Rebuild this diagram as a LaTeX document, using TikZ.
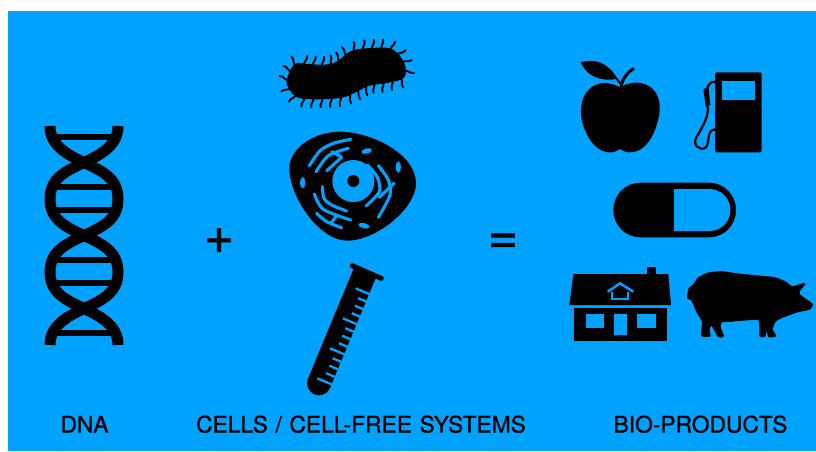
\documentclass[tikz,border=0pt]{standalone}
\usepackage{fontspec}
\setmainfont{TeX Gyre Heros}
\newfontfamily\heavy{TeX Gyre Heros}[FakeBold=1]
\usetikzlibrary{decorations.markings}
\definecolor{skyblue}{HTML}{00A2FF}

\begin{document}
\begin{tikzpicture}[
  x=1pt, y=-1pt,
  lbl/.style={anchor=base, inner sep=0pt, font=\heavy\fontsize{22.8}{24}\selectfont},
  sign/.style={inner sep=0pt, font=\heavy\fontsize{52}{52}\selectfont},
  strand/.style={line width=11pt},
  rung/.style={line width=6pt},
  hair/.style={line width=1.9pt, line cap=round},
  er/.style={draw=skyblue, line width=3.1pt, line cap=round},
  tick/.style={draw=skyblue, line width=2.3pt},
  bristles/.style={decoration={markings,
      mark=between positions 0 and 1 step 9.1pt with {
        \draw[hair] (0,1) .. controls (-1,-4) and (3,-4) .. (2,-9);}},
      postaction={decorate}}
]
  \useasboundingbox (0,0) rectangle (816,451);
  \fill[white] (0,0) rectangle (816,451);
  \fill[skyblue] (8,11) rectangle (816,451);

  % DNA
  \foreach \y/\w in {136.7/32, 187.3/30, 210/30, 260/30, 282.7/30, 332.7/32}
    \draw[rung] (84-\w,\y) -- (84+\w,\y);
  \draw[strand] (50,126) .. controls (50,145) and (66,154) .. (84,162.5)
      .. controls (102,171) and (118,178) .. (118,199)
      .. controls (118,220) and (102,227) .. (84,235.5)
      .. controls (66,244) and (50,251) .. (50,272)
      .. controls (50,293) and (66,300) .. (84,308.5)
      .. controls (102,317) and (118,326) .. (118,345);
  \draw[strand] (118,126) .. controls (118,145) and (102,154) .. (84,162.5)
      .. controls (66,171) and (50,178) .. (50,199)
      .. controls (50,220) and (66,227) .. (84,235.5)
      .. controls (102,244) and (118,251) .. (118,272)
      .. controls (118,293) and (102,300) .. (84,308.5)
      .. controls (66,317) and (50,326) .. (50,345);

  \node[sign] at (219,241) (plus) {+};
  \node[sign] at (503,243.5) (equals) {=};

  % Bacterium
  \filldraw[line width=2pt, line join=round, bristles] plot[smooth cycle, tension=0.6]
    coordinates {(287.7,80) (295,65) (308.3,65)
    (325,65.7) (338.3,61.7) (351.7,51.7) (371.7,49) (391.7,50) (403.3,63.3) (403.3,76.7)
    (388.3,81.7) (368.3,85) (355,91.7) (341.7,96.7) (318.3,98.3) (298.3,96.7) (290,88.3)};

  % Cell
  \begin{scope}[shift={(260,20)}, scale=1/3]
    \fill (88,440) .. controls (92,385) and (160,335) .. (240,335)
      .. controls (330,335) and (468,400) .. (468,490)
      .. controls (468,565) and (350,662) .. (260,662)
      .. controls (180,662) and (85,530) .. (88,440) -- cycle;
    \fill[skyblue] (280,483) circle[radius=63];
    \fill (280,483) circle[radius=18];
    \draw[er] plot[smooth] coordinates {(148,437) (180,392) (220,370) (272,358)};
    \draw[er] plot[smooth] coordinates {(168,455) (205,407) (265,385)};
    \draw[er] (200,452) -- (245,412);
    \draw[er] (215,395) -- (243,410);
    \draw[er] plot[smooth] coordinates {(322,435) (352,472) (358,515) (318,558)};
    \draw[er] plot[smooth] coordinates {(355,437) (385,480) (390,525) (355,592)};
    \draw[er] (358,532) -- (402,490);
    \draw[er] plot[smooth] coordinates {(187,500) (192,535) (215,555) (260,573)};
    \draw[er] plot[smooth] coordinates {(163,522) (190,568) (272,600)};
    \draw[er] plot[smooth] coordinates {(170,580) (200,605) (245,623)};
    \draw[er] (228,590) -- (212,610);
    \fill[skyblue, rotate around={15:(320,393)}] (320,393) ellipse[x radius=16, y radius=8];
    \fill[skyblue] (415,441) ellipse[x radius=8, y radius=17];
    \fill[skyblue] (128,488) ellipse[x radius=8, y radius=17];
    \fill[skyblue, rotate around={-15:(312,617)}] (312,617) ellipse[x radius=17, y radius=8];
  \end{scope}

  % Test tube
  \begin{scope}[shift={(290,250)}, scale=1/3]
    \draw[line width=5pt, line cap=round] (187,47) -- (274,85);
    \draw[line width=24pt] (226,65) -- (87,400);
    \fill (87,400) circle[radius=36];
    \foreach \k in {0,4,8,12}
      \draw[tick] (240-9.6*\k,133+22.5*\k) -- ++(-43,-18);
    \foreach \k in {1,2,3,5,6,7,9,10,11}
      \draw[tick] (240-9.6*\k,133+22.5*\k) -- ++(-26,-11);
  \end{scope}

  % Apple, pump and pill
  \begin{scope}[shift={(560,50)}, scale=1/3]
    \fill (180,112) .. controls (150,95) and (110,92) .. (85,120)
      .. controls (60,145) and (55,195) .. (75,240)
      .. controls (90,280) and (120,310) .. (155,307)
      .. controls (165,306) and (172,302) .. (180,297)
      .. controls (188,302) and (195,306) .. (205,307)
      .. controls (245,310) and (275,275) .. (290,225)
      .. controls (305,180) and (305,130) .. (265,107)
      .. controls (240,92) and (205,97) .. (180,112) -- cycle;
    \fill (62,37) .. controls (100,25) and (150,35) .. (165,88)
      .. controls (125,92) and (85,85) .. (62,37) -- cycle;
    \draw[line width=3pt] (182,115) .. controls (185,90) and (200,68) .. (222,55);
    \draw[line width=2pt] (150,60) -- (182,102);

    \fill[rounded corners=1.5pt] (465,67) rectangle (605,307);
    \fill[skyblue] (487,92) rectangle (585,150);
    \fill (430,118) -- (445,110) -- (451,165) -- (437,170) -- cycle;
    \draw[line width=2.2pt] (465,95) .. controls (452,95) and (447,102) .. (442,113);
    \draw[line width=2.2pt] (442,165) .. controls (450,195) and (425,235) .. (410,260)
      .. controls (395,285) and (420,305) .. (438,292)
      .. controls (450,280) and (438,240) .. (465,238);

    \fill[rounded corners=27pt] (160,398) rectangle (528,562);
    \fill[skyblue] (342,417) -- (448,417) .. controls (483,417) and (511,445) .. (511,480)
      .. controls (511,515) and (483,543) .. (448,543) -- (342,543) -- cycle;
  \end{scope}

  % House
  \begin{scope}[shift={(560,255)}, scale=1/3]
    \fill (40,57) -- (325,57) -- (333,150) -- (28,150) -- cycle;
    \fill (261,37) rectangle (287,57);
    \fill (42,160) rectangle (320,258);
    \fill[skyblue] (77,178) rectangle (132,220);
    \fill[skyblue] (162,178) rectangle (200,240);
    \fill[skyblue] (232,178) rectangle (287,220);
    \draw[skyblue, line width=2.4pt] (143,110) -- (180,85) -- (220,110);
    \draw[skyblue, line width=2.2pt] (155,112) -- (155,133) -- (205,133) -- (205,112);
  \end{scope}

  % Pig
  \begin{scope}[shift={(685,265)}, scale=1/3]
    \filldraw[line width=1pt, line join=round] plot[smooth cycle, tension=0.35] coordinates {
      (8,100) (12,70) (25,60) (40,38) (70,24)
      (110,20) (160,27) (220,33) (270,38) (300,50) (322,65) (360,55) (343,78) (345,90)
      (370,108) (382,118) (375,132) (340,140) (310,150) (275,165) (265,180) (262,195)
      (272,213) (252,215) (243,190) (240,213) (225,213) (222,165) (180,165) (120,170)
      (110,170) (105,185) (115,213) (100,215) (80,180) (72,195) (75,213) (50,212)
      (52,170) (35,140) (20,105)};
  \end{scope}

  % Captions
  \node[lbl] at (84.5,432.5) (dna) {DNA};
  \node[lbl] at (361,432.5) (cells) {\spaceskip=7.6pt CELLS / CELL-FREE SYSTEMS};
  \node[lbl] at (700.5,432.5) (products) {BIO-PRODUCTS};
\end{tikzpicture}
\end{document}
